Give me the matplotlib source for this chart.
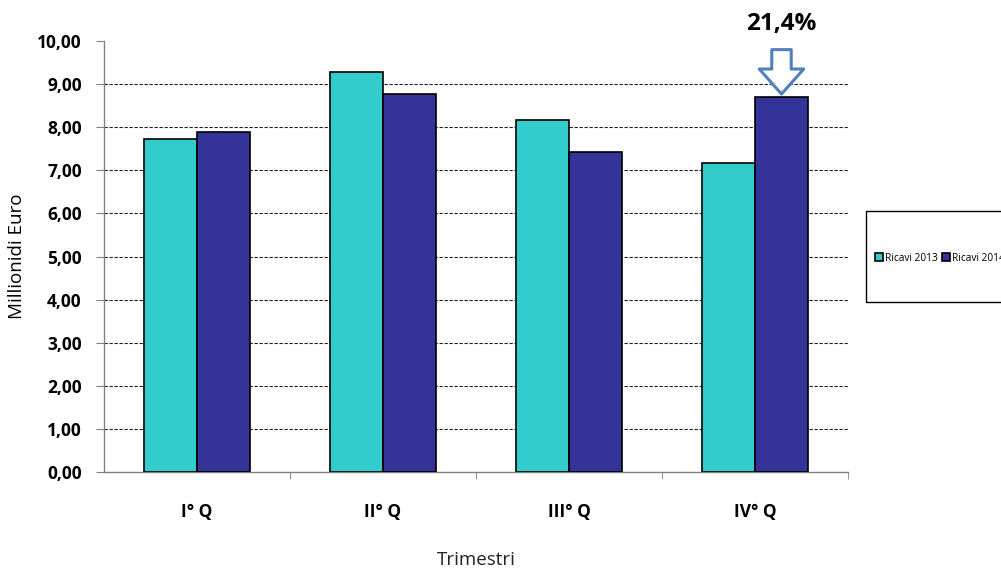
import matplotlib
matplotlib.use("Agg")
import matplotlib.pyplot as plt
import numpy as np
from matplotlib.patches import Rectangle

categories = ["I° Q", "II° Q", "III° Q", "IV° Q"]
ricavi_2013 = [7.72, 9.28, 8.16, 7.18]
ricavi_2014 = [7.88, 8.77, 7.42, 8.70]
series_names = ["Ricavi 2013", "Ricavi 2014"]
y_ticks = [0, 1, 2, 3, 4, 5, 6, 7, 8, 9, 10]
y_tick_labels = ["0,00", "1,00", "2,00", "3,00", "4,00", "5,00", "6,00", "7,00", "8,00", "9,00", "10,00"]
annotation = "21,4%"

plt.rcParams['font.family'] = ['Open Sans', 'DejaVu Sans']

fig = plt.figure(figsize=(10.01, 5.70), dpi=100)
ax = fig.add_axes([104/1001, 1-472/570, (848-104)/1001, (472-41)/570])

x = np.arange(len(categories))
w = 0.285
b1 = ax.bar(x - w/2, ricavi_2013, w, color="#33CCCC", edgecolor="black", linewidth=1.2, label=series_names[0], zorder=3)
b2 = ax.bar(x + w/2, ricavi_2014, w, color="#333399", edgecolor="black", linewidth=1.2, label=series_names[1], zorder=3)

ax.set_xlim(-0.5, len(categories) - 0.5)
ax.set_ylim(0, 10)
ax.set_yticks(y_ticks)
ax.set_yticklabels(y_tick_labels, fontsize=12.5, fontweight="bold")
ax.set_xticks(x)
ax.set_xticklabels(categories, fontsize=12.5, fontweight="bold")
ax.tick_params(axis="x", length=0, pad=22)
ax.set_xticks(np.arange(len(categories)) + 0.5, minor=True)
ax.tick_params(axis="x", which="minor", length=5, direction="out", color="#808080")
ax.tick_params(axis="y", length=6, direction="out", color="#808080", pad=10)

for yv in y_ticks[1:-1]:
    ax.axhline(yv, color="#222222", linestyle=(0, (3, 1.5)), linewidth=0.8, zorder=1)

for s in ["top", "right"]:
    ax.spines[s].set_visible(False)
for s in ["left", "bottom"]:
    ax.spines[s].set_color("#808080")
    ax.spines[s].set_linewidth(1.0)

ax.set_ylabel("Millionidi Euro", fontsize=13.5, labelpad=8)
fig.text(476/1001, 1-560/570, "Trimestri", fontsize=13.5, ha="center", va="center", color="#222222")

# arrow and annotation
xa = x[3] + w/2
ax.annotate("", xy=(xa, 8.77), xytext=(xa, 9.8),
            arrowprops=dict(arrowstyle="simple,head_length=0.9,head_width=1.6,tail_width=0.7",
                            fc="white", ec="#4F81BD", lw=2.2, mutation_scale=20,
                            shrinkA=0, shrinkB=0),
            annotation_clip=False)
ax.text(xa, 10.4, annotation, fontsize=17.5, fontweight="bold", ha="center", va="center", clip_on=False)

# legend box
fig.patches.append(Rectangle((866/1001, 1-302/570), 0.2, 91/570, transform=fig.transFigure,
                             fill=False, edgecolor="black", linewidth=1.0))
fig.legend(handles=[b1, b2], labels=series_names, loc="center left",
           bbox_to_anchor=(866/1001, 1-258/570), ncol=2, frameon=False, fontsize=7.3,
           handlelength=0.8, handleheight=0.8, handletextpad=0.2, columnspacing=0.4)

fig.savefig("out.png", dpi=100)
